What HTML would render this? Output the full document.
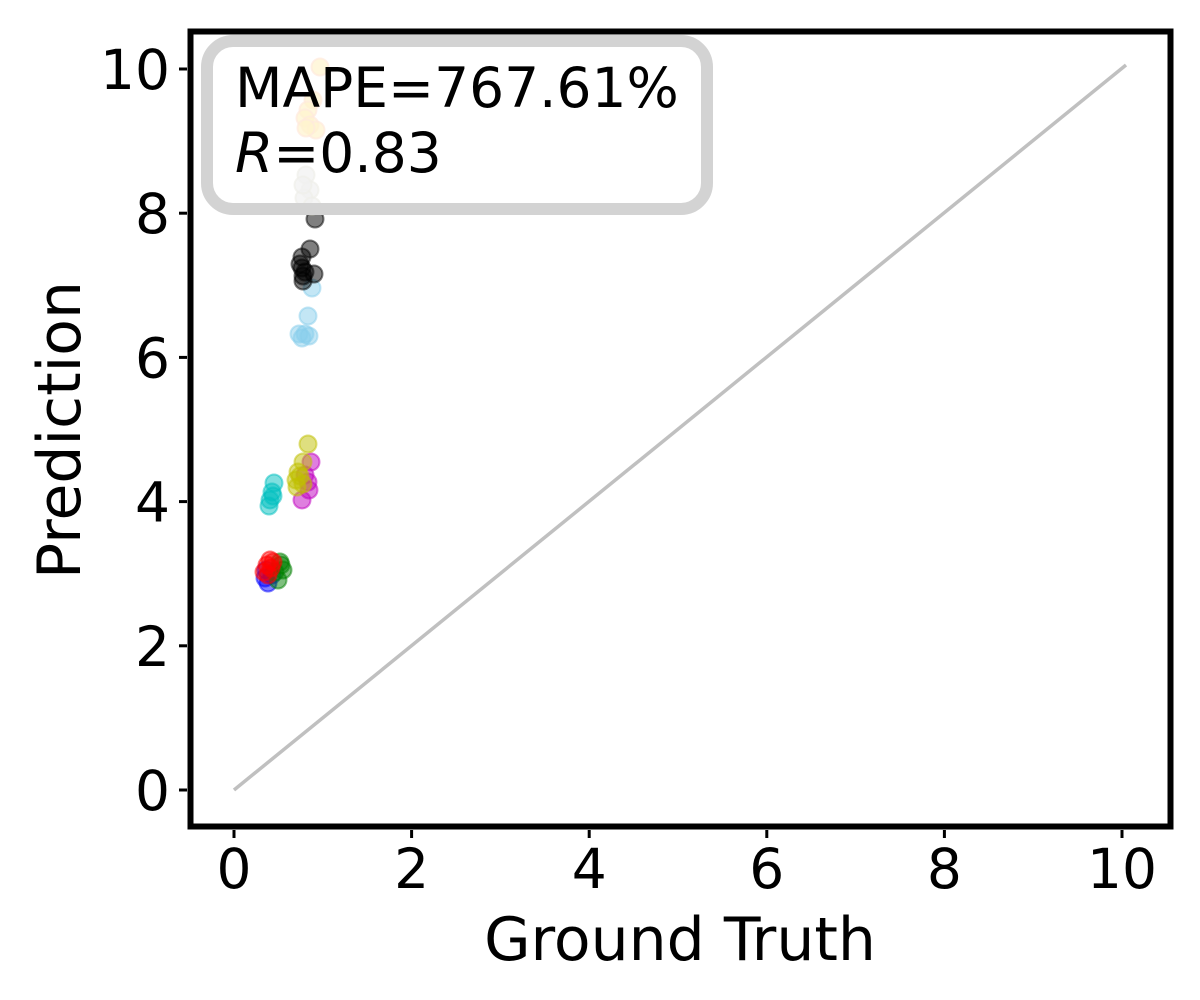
<!DOCTYPE html>
<html><head><meta charset="utf-8"><style>
html,body{margin:0;padding:0;background:#fff;}
svg{display:block;font-family:"DejaVu Sans","Liberation Sans",sans-serif;}
</style></head><body>
<svg width="1200" height="1000" viewBox="0 0 1200 1000" xmlns="http://www.w3.org/2000/svg">
<rect width="1200" height="1000" fill="#fff"/>
<line x1="234" y1="790" x2="1126" y2="65" stroke="#c0c0c0" stroke-width="3.5"/>
<g stroke-width="2">
<g fill="rgba(0,0,255,0.5)" stroke="rgba(0,0,255,0.5)">
<circle cx="268" cy="583" r="8.5"/><circle cx="265" cy="578" r="8.5"/><circle cx="272" cy="575" r="8.5"/><circle cx="266" cy="570" r="8.5"/>
</g>
<g fill="rgba(0,128,0,0.5)" stroke="rgba(0,128,0,0.5)">
<circle cx="280" cy="562" r="8.5"/><circle cx="283" cy="570" r="8.5"/><circle cx="278" cy="580" r="8.5"/><circle cx="275" cy="572" r="8.5"/><circle cx="281" cy="565" r="8.5"/>
</g>
<g fill="rgba(255,0,0,0.5)" stroke="rgba(255,0,0,0.5)">
<circle cx="267" cy="565" r="8.5"/><circle cx="270" cy="560" r="8.5"/><circle cx="264" cy="572" r="8.5"/><circle cx="271" cy="568" r="8.5"/><circle cx="268" cy="575" r="8.5"/><circle cx="273" cy="562" r="8.5"/>
</g>
<g fill="rgba(0,191,191,0.5)" stroke="rgba(0,191,191,0.5)">
<circle cx="274" cy="483" r="8.5"/><circle cx="272" cy="492" r="8.5"/><circle cx="270" cy="500" r="8.5"/><circle cx="269" cy="506" r="8.5"/><circle cx="273" cy="496" r="8.5"/>
</g>
<g fill="rgba(191,0,191,0.5)" stroke="rgba(191,0,191,0.5)">
<circle cx="311" cy="462" r="8.5"/><circle cx="308" cy="482" r="8.5"/><circle cx="302" cy="500" r="8.5"/><circle cx="305" cy="475" r="8.5"/><circle cx="309" cy="490" r="8.5"/>
</g>
<g fill="rgba(191,191,0,0.5)" stroke="rgba(191,191,0,0.5)">
<circle cx="308" cy="444" r="8.5"/><circle cx="303" cy="462" r="8.5"/><circle cx="298" cy="472" r="8.5"/><circle cx="296" cy="480" r="8.5"/><circle cx="297" cy="487" r="8.5"/><circle cx="300" cy="476" r="8.5"/><circle cx="303" cy="484" r="8.5"/>
</g>
<g fill="rgba(135,206,235,0.5)" stroke="rgba(135,206,235,0.5)">
<circle cx="312" cy="288" r="8.5"/><circle cx="308" cy="316" r="8.5"/><circle cx="299" cy="334" r="8.5"/><circle cx="305" cy="334" r="8.5"/><circle cx="302" cy="338" r="8.5"/><circle cx="309" cy="336" r="8.5"/>
</g>
<g fill="rgba(0,0,0,0.5)" stroke="rgba(0,0,0,0.5)">
<circle cx="315" cy="219" r="8.5"/><circle cx="310" cy="249" r="8.5"/><circle cx="302" cy="257" r="8.5"/><circle cx="300" cy="264" r="8.5"/><circle cx="302" cy="268" r="8.5"/><circle cx="303" cy="276" r="8.5"/><circle cx="314" cy="274" r="8.5"/><circle cx="303" cy="281" r="8.5"/><circle cx="305" cy="272" r="8.5"/>
</g>
<g fill="rgba(200,200,200,0.7)" stroke="rgba(190,190,170,0.7)">
<circle cx="306" cy="175" r="8.5"/><circle cx="310" cy="190" r="8.5"/><circle cx="304" cy="198" r="8.5"/><circle cx="312" cy="206" r="8.5"/><circle cx="303" cy="185" r="8.5"/>
</g>
<g fill="rgba(255,210,60,0.7)" stroke="rgba(255,170,120,0.7)">
<circle cx="320" cy="67" r="8.5"/><circle cx="313" cy="100" r="8.5"/><circle cx="308" cy="110" r="8.5"/><circle cx="305" cy="118" r="8.5"/><circle cx="310" cy="125" r="8.5"/><circle cx="316" cy="130" r="8.5"/><circle cx="306" cy="128" r="8.5"/>
</g>
</g>
<!-- legend -->
<rect x="207" y="41" width="500" height="168" rx="26" ry="26" fill="rgba(255,255,255,0.75)" stroke="#d3d3d3" stroke-width="12"/>
<text x="235" y="107" font-size="55" fill="#000">MAPE=767.61%</text>
<text x="235" y="172" font-size="55" fill="#000"><tspan font-style="italic">R</tspan>=0.83</text>
<!-- spines -->
<rect x="190.5" y="31.5" width="980" height="795" fill="none" stroke="#000" stroke-width="6"/>
<!-- ticks -->
<g stroke="#000" stroke-width="3">
<line x1="234" y1="830" x2="234" y2="838"/><line x1="411.6" y1="830" x2="411.6" y2="838"/><line x1="589.2" y1="830" x2="589.2" y2="838"/><line x1="766.8" y1="830" x2="766.8" y2="838"/><line x1="944.4" y1="830" x2="944.4" y2="838"/><line x1="1122" y1="830" x2="1122" y2="838"/>
<line x1="179" y1="790" x2="187" y2="790"/><line x1="179" y1="645.8" x2="187" y2="645.8"/><line x1="179" y1="501.6" x2="187" y2="501.6"/><line x1="179" y1="357.4" x2="187" y2="357.4"/><line x1="179" y1="213.2" x2="187" y2="213.2"/><line x1="179" y1="69" x2="187" y2="69"/>
</g>
<g font-size="55" fill="#000" text-anchor="middle">
<text x="234" y="888">0</text><text x="411.6" y="888">2</text><text x="589.2" y="888">4</text><text x="766.8" y="888">6</text><text x="944.4" y="888">8</text><text x="1122" y="888">10</text>
</g>
<g font-size="55" fill="#000" text-anchor="end">
<text x="170" y="810">0</text><text x="170" y="665.8">2</text><text x="170" y="521.6">4</text><text x="170" y="377.4">6</text><text x="170" y="233.2">8</text><text x="170" y="89">10</text>
</g>
<text x="680" y="960" font-size="60" text-anchor="middle" fill="#000">Ground Truth</text>
<text transform="translate(80,430) rotate(-90)" font-size="60" text-anchor="middle" fill="#000">Prediction</text>
</svg>
</body></html>
